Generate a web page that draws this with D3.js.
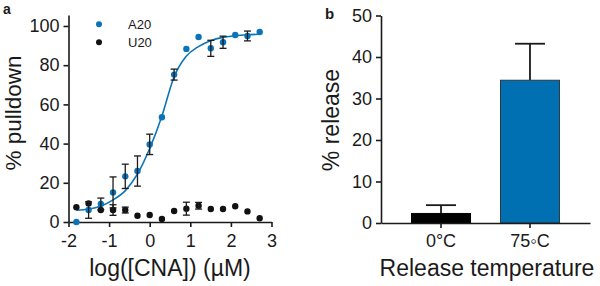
<!DOCTYPE html>
<html>
<head>
<meta charset="utf-8">
<script src="https://cdn.jsdelivr.net/npm/d3@7"></script>
<style>
  body { margin: 0; background: #fff; }
  text { font-family: "Liberation Sans", Arial, sans-serif; fill: #1a1a1a; }
  .axis path, .axis line { stroke: #1a1a1a; stroke-width: 1.6; }
</style>
</head>
<body>
<script>
const width = 600, height = 286;

// panel a: pulldown vs log concentration
const logConc = [-1.806, -1.505, -1.204, -0.903, -0.602, -0.301, 0, 0.301, 0.602, 0.903, 1.204, 1.505, 1.806, 2.107, 2.408, 2.709];
const a20 = [0, 6.1, 9.2, 15.1, 23.3, 26, 39.6, 53.4, 75.2, 88.3, 94.4, 88.6, 91.7, 95.4, 94.9, 96.9];
const a20Err = [0, 4.2, 3, 7.9, 6.2, 7.7, 5.2, 0, 2.8, 0, 0, 4.1, 3.1, 0, 2.5, 0];
const u20 = [7.5, 9.5, 6.1, 6.1, 6.1, 3.2, 3.6, 1.5, 5.6, 6.8, 8.3, 6.6, 6.6, 8.0, 5.4, 1.9];
const u20Err = [0, 0, 0, 2.7, 1.5, 0, 0, 0, 0, 3.3, 1.7, 0, 0, 0, 0, 0];
// fitted curve
const fitX = [-1.8, -1.5, -1.2, -0.9, -0.6, -0.3, 0, 0.3, 0.6, 0.9, 1.2, 1.5, 1.8, 2.1, 2.4, 2.7];
const fitY = [6.0, 6.6, 8.2, 11.3, 16.0, 24.5, 37.5, 54, 74, 84.5, 89.5, 92.5, 94.2, 95.0, 95.5, 95.8];
const xTicksA = [-2, -1, 0, 1, 2, 3];
const yTicksA = [0, 20, 40, 60, 80, 100];

// panel b: release
const temps = ["0°C", "75◦C"];
const release = [2.3, 34.4];
const releaseErr = [2.0, 8.8];
const yTicksB = [0, 10, 20, 30, 40, 50];

const blue = "#0b74b8";

const svg = d3.select("body").append("svg")
  .attr("width", width)
  .attr("height", height);

// ---------- panel a ----------
const xA = d3.scaleLinear().domain([-2, 3]).range([68.5, 271.5]);
const yA = d3.scaleLinear().domain([0, 105.6]).range([222, 15]);

svg.append("g").attr("class", "axis")
  .attr("transform", "translate(0,222)")
  .call(d3.axisBottom(xA).tickValues(xTicksA)
    .tickFormat(d => (d < 0 ? "-" : "") + Math.abs(d))
    .tickSize(5).tickSizeOuter(0).tickPadding(7))
  .call(g => g.selectAll("text").attr("font-size", 18).attr("fill", "#1a1a1a"));

svg.append("g").attr("class", "axis")
  .attr("transform", "translate(68.5,0)")
  .call(d3.axisLeft(yA).tickValues(yTicksA).tickSize(5).tickSizeOuter(0).tickPadding(4))
  .call(g => g.selectAll("text").attr("font-size", 18).attr("fill", "#1a1a1a"));

// fit line
svg.append("path")
  .datum(fitX.map((x, i) => [x, fitY[i]]))
  .attr("fill", "none")
  .attr("stroke", blue)
  .attr("stroke-width", 1.6)
  .attr("d", d3.line().x(d => xA(d[0])).y(d => yA(d[1])).curve(d3.curveMonotoneX));

function drawSeries(vals, errs, color) {
  const data = logConc.map((x, i) => ({ x: x, y: vals[i], e: errs[i] }));
  const g = svg.append("g");
  g.selectAll("circle")
    .data(data)
    .enter().append("circle")
    .attr("cx", d => xA(d.x))
    .attr("cy", d => yA(d.y))
    .attr("r", 3.2)
    .attr("fill", color);
  const eb = g.selectAll("g.err")
    .data(data.filter(d => d.e > 0))
    .enter().append("g")
    .attr("stroke", "#1a1a1a")
    .attr("stroke-width", 1.3);
  eb.append("line")
    .attr("x1", d => xA(d.x)).attr("x2", d => xA(d.x))
    .attr("y1", d => yA(d.y - d.e)).attr("y2", d => yA(d.y + d.e));
  [-1, 1].forEach(s => {
    eb.append("line")
      .attr("x1", d => xA(d.x) - 3.5).attr("x2", d => xA(d.x) + 3.5)
      .attr("y1", d => yA(d.y + s * d.e)).attr("y2", d => yA(d.y + s * d.e));
  });
}
drawSeries(u20, u20Err, "#111");
drawSeries(a20, a20Err, blue);

// legend
const legend = [["A20", blue], ["U20", "#111"]];
legend.forEach((l, i) => {
  svg.append("circle").attr("cx", 99).attr("cy", 24.3 + i * 18).attr("r", 3).attr("fill", l[1]);
  svg.append("text").attr("x", 128).attr("y", 29.3 + i * 18).attr("font-size", 13).text(l[0]);
});

svg.append("text")
  .attr("x", xA(0.5)).attr("y", 276)
  .attr("text-anchor", "middle").attr("font-size", 23)
  .text("log([CNA]) (µM)");

svg.append("text")
  .attr("transform", "translate(20.5,113) rotate(-90)")
  .attr("text-anchor", "middle").attr("font-size", 22.5)
  .text("% pulldown");

svg.append("text").attr("x", 3).attr("y", 13.5)
  .attr("font-size", 14).attr("font-weight", "bold").text("a");

// ---------- panel b ----------
const xB = d3.scaleBand().domain(temps).range([381, 590]).paddingInner(0.337).paddingOuter(0.343);
const yB = d3.scaleLinear().domain([0, 50]).range([223, 15.5]);

const bars = temps.map((t, i) => ({ t: t, v: release[i], e: releaseErr[i], c: i === 0 ? "#000" : "#0070b2", s: i === 0 ? "#000" : "#2b3a44" }));

// error bars behind the bars
const ebB = svg.append("g").selectAll("g")
  .data(bars).enter().append("g")
  .attr("stroke", "#1a1a1a").attr("stroke-width", 1.8);
ebB.append("line")
  .attr("x1", d => xB(d.t) + xB.bandwidth() / 2).attr("x2", d => xB(d.t) + xB.bandwidth() / 2)
  .attr("y1", d => yB(d.v)).attr("y2", d => yB(d.v + d.e));
ebB.append("line")
  .attr("x1", d => xB(d.t) + xB.bandwidth() / 2 - 15).attr("x2", d => xB(d.t) + xB.bandwidth() / 2 + 15)
  .attr("y1", d => yB(d.v + d.e)).attr("y2", d => yB(d.v + d.e));

svg.append("g").selectAll("rect")
  .data(bars).enter().append("rect")
  .attr("x", d => xB(d.t))
  .attr("y", d => yB(d.v))
  .attr("width", xB.bandwidth())
  .attr("height", d => yB(0) - yB(d.v))
  .attr("fill", d => d.c)
  .attr("stroke", d => d.s)
  .attr("stroke-width", 1);

svg.append("g").attr("class", "axis")
  .attr("transform", "translate(0,223)")
  .call(d3.axisBottom(xB).tickSize(5).tickSizeOuter(0).tickPadding(6))
  .call(g => g.selectAll("text").attr("font-size", 18).attr("fill", "#1a1a1a"));

svg.append("g").attr("class", "axis")
  .attr("transform", "translate(381,0)")
  .call(d3.axisLeft(yB).tickValues(yTicksB).tickSize(5).tickSizeOuter(0).tickPadding(4))
  .call(g => g.selectAll("text").attr("font-size", 18).attr("fill", "#1a1a1a"));

svg.append("text")
  .attr("x", 487).attr("y", 276)
  .attr("text-anchor", "middle").attr("font-size", 23)
  .text("Release temperature");

svg.append("text")
  .attr("transform", "translate(339,120) rotate(-90)")
  .attr("text-anchor", "middle").attr("font-size", 23)
  .text("% release");

svg.append("text").attr("x", 325).attr("y", 19)
  .attr("font-size", 15).attr("font-weight", "bold").text("b");
</script>
</body>
</html>
